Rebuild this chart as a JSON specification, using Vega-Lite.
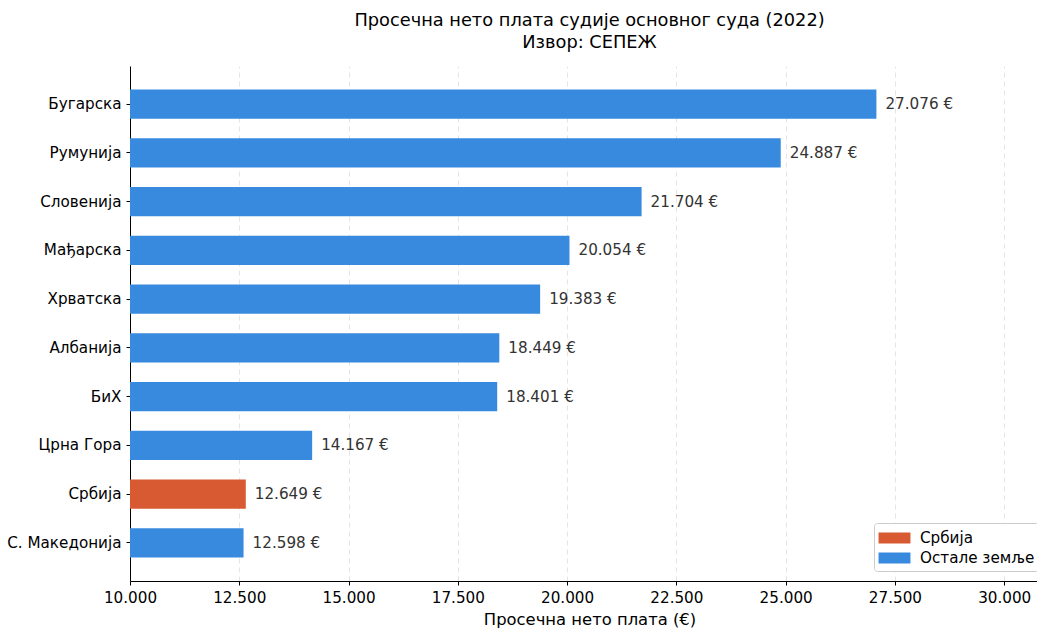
{
  "$schema": "https://vega.github.io/schema/vega-lite/v6.json",
  "width": 907,
  "height": 515,
  "autosize": {"type": "none"},
  "padding": {"left": 130, "top": 66, "right": 0, "bottom": 47},
  "background": "white",
  "config": {
    "locale": {"number": {"decimal": ",", "thousands": ".", "grouping": [3], "currency": ["", " €"]}},
    "font": "DejaVu Sans",
    "view": {"stroke": null}
  },
  "title": {
    "text": ["Просечна нето плата судије основног суда (2022)", "Извор: СЕПЕЖ"],
    "font": "DejaVu Sans",
    "fontSize": 17.8,
    "fontWeight": "normal",
    "color": "#000000",
    "anchor": "middle",
    "dx": 6,
    "offset": 14,
    "lineHeight": 22
  },
  "data": {
    "values": [
      {"country": "Бугарска", "value": 27076, "group": "Остале земље"},
      {"country": "Румунија", "value": 24887, "group": "Остале земље"},
      {"country": "Словенија", "value": 21704, "group": "Остале земље"},
      {"country": "Мађарска", "value": 20054, "group": "Остале земље"},
      {"country": "Хрватска", "value": 19383, "group": "Остале земље"},
      {"country": "Албанија", "value": 18449, "group": "Остале земље"},
      {"country": "БиХ", "value": 18401, "group": "Остале земље"},
      {"country": "Црна Гора", "value": 14167, "group": "Остале земље"},
      {"country": "Србија", "value": 12649, "group": "Србија"},
      {"country": "С. Македонија", "value": 12598, "group": "Остале земље"}
    ]
  },
  "encoding": {
    "y": {
      "field": "country",
      "type": "nominal",
      "sort": {"field": "value", "order": "descending"},
      "scale": {"paddingInner": 0.4, "paddingOuter": 0.48},
      "axis": {
        "title": null,
        "labelFontSize": 15.2,
        "labelColor": "#000000",
        "domainColor": "#000000",
        "tickColor": "#000000",
        "tickSize": 4,
        "labelPadding": 5,
        "grid": false
      }
    },
    "x": {
      "field": "value",
      "type": "quantitative",
      "scale": {"domain": [10000, 30750], "nice": false, "zero": false, "clamp": true},
      "axis": {
        "values": [10000, 12500, 15000, 17500, 20000, 22500, 25000, 27500, 30000],
        "format": ",.0f",
        "labelFlush": false,
        "title": "Просечна нето плата (€)",
        "titleX": 459.5,
        "titleFontSize": 16.4,
        "titleFontWeight": "normal",
        "titleColor": "#000000",
        "titlePadding": 6,
        "labelFontSize": 15.2,
        "labelColor": "#000000",
        "domainColor": "#000000",
        "tickColor": "#000000",
        "tickSize": 4,
        "labelPadding": 5,
        "grid": true,
        "gridDash": [5, 4],
        "gridColor": "#dddddd",
        "gridWidth": 0.8
      }
    }
  },
  "layer": [
    {
      "mark": {"type": "bar", "x": {"expr": "scale('x', 10000)"}},
      "encoding": {
        "color": {
          "field": "group",
          "type": "nominal",
          "scale": {"domain": ["Србија", "Остале земље"], "range": ["#D85A32", "#388ADF"]},
          "legend": {
            "title": null,
            "orient": "none",
            "legendX": 744,
            "legendY": 457,
            "labelFontSize": 15.2,
            "labelColor": "#000000",
            "symbolType": "M-0.95,-0.5H1.95V0.5H-0.95Z",
            "symbolSize": 484,
            "symbolStrokeWidth": 0,
            "symbolOpacity": 1,
            "labelOffset": 20,
            "rowPadding": 0,
            "fillColor": "white",
            "strokeColor": "#cccccc",
            "cornerRadius": 3,
            "padding": 4
          }
        }
      }
    },
    {
      "mark": {"type": "text", "align": "left", "baseline": "middle", "dx": 9, "fontSize": 15.2, "color": "#333333"},
      "encoding": {
        "text": {"field": "value", "type": "quantitative", "format": "$,.0f"}
      }
    }
  ]
}
